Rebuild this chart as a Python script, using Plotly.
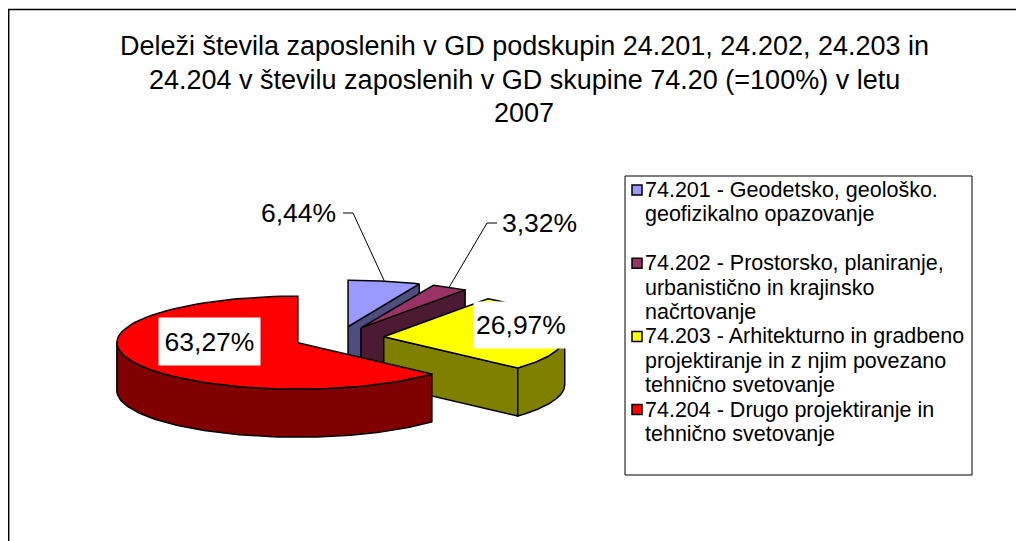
import numpy as np
import plotly.graph_objects as go

# ---------------- data ----------------
categories = [
    ["74.201 - Geodetsko, geološko.", "geofizikalno opazovanje", ""],
    ["74.202 - Prostorsko, planiranje,", "urbanistično in krajinsko", "načrtovanje"],
    ["74.203 - Arhitekturno in gradbeno", "projektiranje in z njim povezano", "tehnično svetovanje"],
    ["74.204 - Drugo projektiranje in", "tehnično svetovanje"],
]
values = [6.44, 3.32, 26.97, 63.27]
value_labels = ["6,44%", "3,32%", "26,97%", "63,27%"]
top_colors = ["#9999FF", "#993366", "#FFFF00", "#FF0000"]
side_colors = ["#4D4D80", "#4D1A33", "#808000", "#800000"]

title_lines = [
    "Deleži števila zaposlenih v GD podskupin 24.201, 24.202, 24.203 in",
    "24.204 v številu zaposlenih v GD skupine 74.20 (=100%) v letu",
    "2007",
]

# ---------------- geometry / style (page pixel coordinates) ----------------
X0, Y0 = 8, 8            # page offset of the figure (browser body margin)
W, H = 1024, 541
CX, CY = 339, 338
RX, RY = 181, 46.5
DEPTH = 48
EXPLODE = 45
FONT = "Liberation Sans, Arial, sans-serif"

total = float(sum(values))
fracs = np.array(values) / total
starts = 90 - 360 * np.concatenate([[0], np.cumsum(fracs)[:-1]])
ends = starts - 360 * fracs
mids = (starts + ends) / 2


def centre(i):
    m = np.radians(mids[i])
    return CX + EXPLODE * np.cos(m), CY - EXPLODE * RY / RX * np.sin(m)


def arc(cx, cy, a0, a1, dy=0.0, n=90):
    t = np.radians(np.linspace(a0, a1, n))
    return cx + RX * np.cos(t), cy - RY * np.sin(t) + dy


def front_parts(lo_a, hi_a):
    parts = []
    for k in range(-2, 3):
        lo, hi = -180 + 360 * k, 360 * k
        s, e = max(lo_a, lo), min(hi_a, hi)
        if e > s:
            parts.append((s, e))
    return parts


fig = go.Figure()


def poly(xs, ys, fill, name):
    fig.add_trace(go.Scatter(
        x=list(xs) + [xs[0]], y=list(ys) + [ys[0]], mode="lines",
        fill="toself", fillcolor=fill, name=name,
        line=dict(color="black", width=1.5),
        hoverinfo="skip", showlegend=False))


order = sorted(range(len(values)), key=lambda i: -np.sin(np.radians(mids[i])))
for i in order:
    nm = categories[i][0]
    cx, cy = centre(i)
    a_hi, a_lo = starts[i], ends[i]
    # radial walls that face the viewer
    for a, vis in ((a_hi, np.cos(np.radians(a_hi)) < -1e-9),
                   (a_lo, np.cos(np.radians(a_lo)) > 1e-9)):
        if vis:
            ex = cx + RX * np.cos(np.radians(a))
            ey = cy - RY * np.sin(np.radians(a))
            poly([cx, ex, ex, cx], [cy, ey, ey + DEPTH, cy + DEPTH], side_colors[i], nm)
    # outer wall (front part)
    for s, e in front_parts(a_lo, a_hi):
        tx, ty = arc(cx, cy, s, e)
        bx, by = arc(cx, cy, e, s, DEPTH)
        poly(np.concatenate([tx, bx]), np.concatenate([ty, by]), side_colors[i], nm)
    # top face
    tx, ty = arc(cx, cy, a_hi, a_lo)
    poly(np.concatenate([[cx], tx]), np.concatenate([[cy], ty]), top_colors[i], nm)

annotations = []
shapes = []

# ---------------- value labels ----------------
LABEL_SIZE = 26.5
inside = {3: dict(x=209, y=341, w=99, h=45), 2: dict(x=521, y=325, w=92, h=44)}
for i, p in inside.items():
    annotations.append(dict(x=p["x"], y=p["y"], xref="x", yref="y", text=value_labels[i],
                            showarrow=False, bgcolor="white", width=p["w"], height=p["h"],
                            font=dict(family=FONT, size=LABEL_SIZE, color="black")))
outside = {0: dict(x=298, y=213, side="right"), 1: dict(x=539, y=223, side="left")}
for i, p in outside.items():
    annotations.append(dict(x=p["x"], y=p["y"], xref="x", yref="y", text=value_labels[i],
                            showarrow=False, font=dict(family=FONT, size=LABEL_SIZE, color="black")))
    cx, cy = centre(i)
    m = np.radians(mids[i])
    px, py = cx + RX * np.cos(m), cy - RY * np.sin(m)
    if p["side"] == "right":
        x0 = p["x"] + 45
        xs, ys = [x0, x0 + 10, px], [p["y"], p["y"], py]
    else:
        x0 = p["x"] - 42
        xs, ys = [x0, x0 - 10, px], [p["y"], p["y"], py]
    fig.add_trace(go.Scatter(x=xs, y=ys, mode="lines", line=dict(color="black", width=1),
                             hoverinfo="skip", showlegend=False))

# ---------------- title ----------------
TITLE_Y = [46, 80, 113]
for line, ty in zip(title_lines, TITLE_Y):
    annotations.append(dict(x=524, y=ty, xref="x", yref="y", text=line, showarrow=False,
                            xanchor="center", yanchor="middle",
                            font=dict(family=FONT, size=27, color="black")))

# ---------------- legend ----------------
LEG_X, LEG_Y, LEG_DY = 643, 190, 24.4
k = 0
for i, lines in enumerate(categories):
    ym = LEG_Y + LEG_DY * k
    shapes.append(dict(type="rect", xref="x", yref="y", x0=632, x1=642, y0=ym - 5, y1=ym + 5,
                       fillcolor=top_colors[i], line=dict(color="black", width=1.5)))
    for line in lines:
        if line:
            annotations.append(dict(x=LEG_X, y=LEG_Y + LEG_DY * k, xref="x", yref="y",
                                    text=line, showarrow=False, xanchor="left", yanchor="middle",
                                    font=dict(family=FONT, size=21.5, color="black")))
        k += 1

shapes += [
    dict(type="rect", xref="x", yref="y", x0=8.7, y0=9.6, x1=1100, y1=700,
         line=dict(color="black", width=1.5), layer="below"),
    dict(type="rect", xref="x", yref="y", x0=625, y0=176, x1=972, y1=475,
         line=dict(color="black", width=1), layer="below"),
]

fig.update_layout(
    width=W - X0, height=H - Y0, margin=dict(l=0, r=0, t=0, b=0),
    paper_bgcolor="white", plot_bgcolor="white",
    xaxis=dict(range=[X0, W], visible=False, fixedrange=True),
    yaxis=dict(range=[H, Y0], visible=False, fixedrange=True),
    showlegend=False,
    annotations=annotations, shapes=shapes,
)

fig.write_html("out.html")
